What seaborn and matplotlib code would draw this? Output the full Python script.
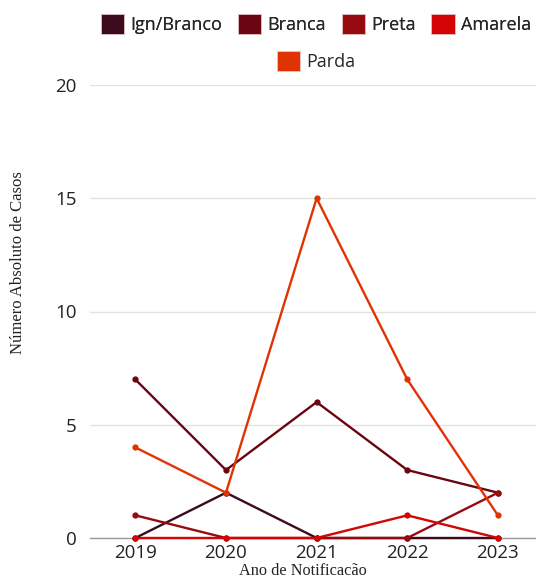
import matplotlib
matplotlib.use("Agg")
import matplotlib.pyplot as plt
from matplotlib.patches import Patch
import pandas as pd
import seaborn as sns

# Notified cases per year, by race/colour
anos = [2019, 2020, 2021, 2022, 2023]
categorias = ["Ign/Branco", "Branca", "Preta", "Amarela", "Parda"]
ign_branco = [0, 2, 0, 0, 0]
branca = [7, 3, 6, 3, 2]
preta = [1, 0, 0, 0, 2]
amarela = [0, 0, 0, 1, 0]
parda = [4, 2, 15, 7, 1]
cores = ["#3b0a1c", "#6a0612", "#960a10", "#d20404", "#e03304"]

series = [ign_branco, branca, preta, amarela, parda]
df = pd.DataFrame(
    [(a, cat, v) for cat, vals in zip(categorias, series) for a, v in zip(anos, vals)],
    columns=["Ano", "Raça", "Casos"],
)
palette = dict(zip(categorias, cores))

sns.set_theme(style="white")
plt.rcParams["font.family"] = ["Open Sans", "DejaVu Sans"]

fig = plt.figure(figsize=(5.36, 5.8), dpi=100)
ax = fig.add_axes([90 / 536, 1 - 538 / 580, 446 / 536, (538 - 85) / 580])

sns.lineplot(
    data=df, x="Ano", y="Casos", hue="Raça", hue_order=categorias,
    palette=palette, marker="o", markersize=4.5, markeredgewidth=0,
    linewidth=1.7, ax=ax, legend=False, clip_on=False, zorder=3,
)

ax.set_xlim(2018.5, 2023.42)
ax.set_ylim(0, 20)
ax.set_yticks([0, 5, 10, 15, 20])
ax.set_xticks(anos)
ax.set_xticklabels([str(a) for a in anos])
ax.yaxis.grid(True, color="#e3e3e3", linewidth=1)
ax.xaxis.grid(False)
for s in ["top", "right", "left"]:
    ax.spines[s].set_visible(False)
ax.spines["bottom"].set_color("#9a9a9a")
ax.spines["bottom"].set_linewidth(1)
ax.tick_params(axis="both", length=0, labelsize=13.5, colors="#222222")
ax.tick_params(axis="y", pad=9.5)
ax.tick_params(axis="x", pad=4)
ax.set_xlabel("")
ax.set_ylabel("")

serif = ["Liberation Serif", "DejaVu Serif"]
fig.text(303 / 536, 1 - 571 / 580, "Ano de Notificacão", ha="center", va="center",
         fontsize=11.7, family=serif, color="#222222")
fig.text(18 / 536, 1 - 263 / 580, "Número Absoluto de Casos", ha="center", va="center",
         rotation=90, fontsize=12, family=serif, color="#222222")

handles = [Patch(facecolor=c, edgecolor="#e8c8c8", linewidth=0.6) for c in cores]
leg1 = fig.legend(handles[:4], categorias[:4], loc="center", ncol=4,
                  bbox_to_anchor=(316 / 536, 1 - 24 / 580), frameon=False,
                  fontsize=13, handlelength=1.3, handleheight=1.3,
                  handletextpad=0.35, columnspacing=0.85, borderaxespad=0)
fig.add_artist(leg1)
fig.legend(handles[4:], categorias[4:], loc="center",
           bbox_to_anchor=(316 / 536, 1 - 61 / 580), frameon=False,
           fontsize=13, handlelength=1.3, handleheight=1.3,
           handletextpad=0.35, borderaxespad=0)

fig.savefig("out.png", dpi=100)
